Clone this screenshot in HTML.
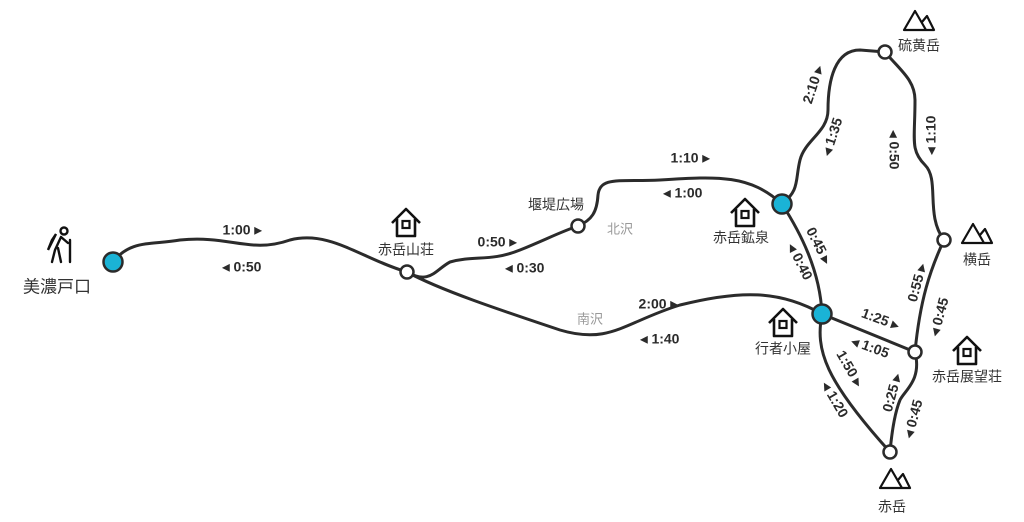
<!DOCTYPE html>
<html><head><meta charset="utf-8"><style>
html,body{margin:0;padding:0;background:#fff;}
svg{display:block}
text{font-family:"Liberation Sans","Noto Sans CJK JP",sans-serif;font-weight:bold;font-size:14px;fill:#2b2b2b;text-anchor:middle;dominant-baseline:middle}
.j{font-weight:normal;font-size:14px;fill:#333}
.g{font-weight:normal;fill:#999;font-size:13px}
</style></head><body>
<svg width="1024" height="522" viewBox="0 0 1024 522">
<defs>
<g id="house"><path d="M-14,1 L0,-13 L14,1 M-9,-3 V14 H9 V-3" fill="none" stroke="#111" stroke-width="2.6" stroke-linejoin="round"/><rect x="-3.5" y="-1" width="7" height="7" fill="none" stroke="#111" stroke-width="2.2"/></g>
<g id="mt"><path d="M-15,10 L-4,-9 L7,10 Z M3,2 L8,-4 L15,10 L7,10" fill="none" stroke="#111" stroke-width="2.2" stroke-linejoin="round"/></g>
</defs>
<g fill="none" stroke="#2b2b2b" stroke-width="3" stroke-linecap="round">
<path d="M113,262 C130,240 150,245 180,240 C230,235 250,254 290,240 C330,230 360,258 407,272"/>
<path d="M407,272 C430,285 435,270 450,262 C475,255 490,262 520,250 C545,240 560,232 578,226"/>
<path d="M578,226 C592,220 597,212 598,195 C600,176 620,182 660,180 C720,176 750,175 782,204"/>
<path d="M782,204 C800,190 795,180 800,160 C805,140 828,132 828,110 C828,80 835,50 860,50 L885,52"/>
<path d="M885,52 C900,70 915,80 915,100 C915,140 910,150 925,165 C940,180 925,215 944,240"/>
<path d="M944,240 C930,270 920,300 915,352"/>
<path d="M915,352 C922,380 905,390 900,400 C895,412 892,430 890,452"/>
<path d="M822,314 C815,350 825,380 890,452"/>
<path d="M822,314 L915,352"/>
<path d="M782,204 C800,232 820,270 822,314"/>
<path d="M407,272 C440,290 500,310 560,330 C610,345 625,322 680,305 C740,290 780,290 822,314"/>
</g>
<g stroke="#2b2b2b" stroke-width="2.5">
<circle cx="113" cy="262" r="9.5" fill="#1ab3d6"/>
<circle cx="782" cy="204" r="9.5" fill="#1ab3d6"/>
<circle cx="822" cy="314" r="9.5" fill="#1ab3d6"/>
<circle cx="407" cy="272" r="6.5" fill="#fff"/>
<circle cx="578" cy="226" r="6.5" fill="#fff"/>
<circle cx="885" cy="52" r="6.5" fill="#fff"/>
<circle cx="944" cy="240" r="6.5" fill="#fff"/>
<circle cx="915" cy="352" r="6.5" fill="#fff"/>
<circle cx="890" cy="452" r="6.5" fill="#fff"/>
</g>
<g fill="none" stroke="#111" stroke-width="2.4" stroke-linecap="round" transform="translate(58,248)">
<circle cx="6" cy="-17" r="3.5"/>
<path d="M-6,-8 L-2,-14 L-10,2 L-6,-8 M3,-11 L-3,2 L-6,14 M0,0 L3,14 M3,-11 L10,-5 M12,-8 V14"/>
</g>
<text class="j" x="57" y="288" style="font-size:17px">美濃戸口</text>
<use href="#house" x="406" y="222"/><text class="j" x="406" y="251">赤岳山荘</text>
<use href="#house" x="745" y="212"/><text class="j" x="741" y="239">赤岳鉱泉</text>
<use href="#house" x="783" y="322"/><text class="j" x="783" y="350">行者小屋</text>
<use href="#house" x="967" y="350"/><text class="j" x="967" y="378">赤岳展望荘</text>
<use href="#mt" x="919" y="20"/><text class="j" x="919" y="47">硫黄岳</text>
<use href="#mt" x="977" y="233"/><text class="j" x="977" y="261">横岳</text>
<use href="#mt" x="895" y="478"/><text class="j" x="892" y="508">赤岳</text>
<text class="j" x="556" y="206">堰堤広場</text>
<text class="g" x="620" y="230">北沢</text>
<text class="g" x="590" y="320">南沢</text>
<text x="242" y="231">1:00 ▸</text>
<text x="242" y="268">◂ 0:50</text>
<text x="497" y="243">0:50 ▸</text>
<text x="525" y="269">◂ 0:30</text>
<text x="690" y="159">1:10 ▸</text>
<text x="683" y="194">◂ 1:00</text>
<text x="658" y="305">2:00 ▸</text>
<text x="660" y="340">◂ 1:40</text>
<text transform="translate(814,85) rotate(-72)">2:10 ▸</text>
<text transform="translate(833,137) rotate(-72)">◂ 1:35</text>
<text transform="translate(893,150) rotate(90)">◂ 0:50</text>
<text transform="translate(932,135) rotate(-90)">◂ 1:10</text>
<text transform="translate(818,246) rotate(63)">0:45 ▸</text>
<text transform="translate(799,262) rotate(63)">◂ 0:40</text>
<text transform="translate(880,320) rotate(20)">1:25 ▸</text>
<text transform="translate(870,348) rotate(20)">◂ 1:05</text>
<text transform="translate(918,283) rotate(-75)">0:55 ▸</text>
<text transform="translate(940,317) rotate(-75)">◂ 0:45</text>
<text transform="translate(849,369) rotate(60)">1:50 ▸</text>
<text transform="translate(834,400) rotate(60)">◂ 1:20</text>
<text transform="translate(893,393) rotate(-75)">0:25 ▸</text>
<text transform="translate(914,419) rotate(-75)">◂ 0:45</text>
</svg>
</body></html>
